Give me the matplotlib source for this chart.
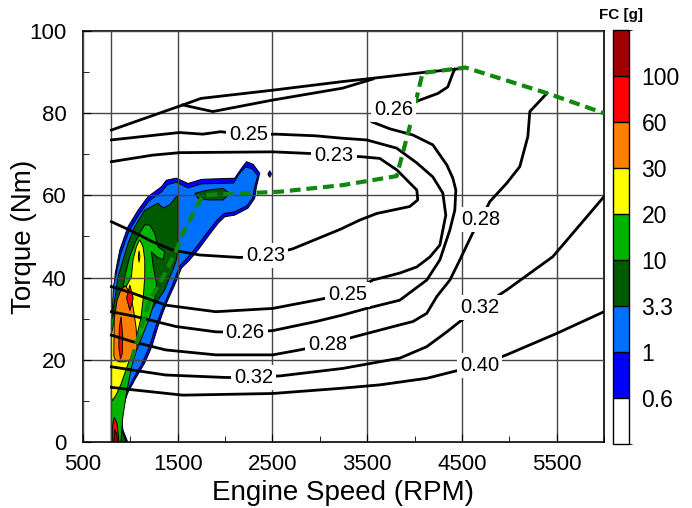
import matplotlib.pyplot as plt
from matplotlib.colors import ListedColormap, BoundaryNorm
from matplotlib.colorbar import ColorbarBase

plt.rcParams['font.family'] = ['Liberation Sans', 'DejaVu Sans']

# BSFC iso-lines (rpm, Nm), label point included in each line
bsfc_023 = [(800, 68.2), (1236, 69.8), (1521, 70.4), (2503, 70.6), (2894, 70.2), (3150, 69.8),
            (3443, 69.4), (3633, 69.0), (3813, 66.2), (4024, 61.3), (4034, 58.9), (3950, 57.3),
            (3601, 55.6), (3422, 54.0), (3221, 51.8), (2894, 48.7), (2714, 47.0), (2429, 45.3),
            (2155, 44.9), (1732, 45.5), (1447, 46.7), (1236, 48.7), (1025, 51.2), (800, 53.6)]
bsfc_025 = [(800, 73.5), (1518, 75.3), (1764, 74.9), (1954, 75.5), (2245, 74.7), (2535, 74.9),
            (2957, 74.5), (3242, 73.9), (3494, 73.5), (3811, 71.5), (4024, 67.9), (4193, 64.5),
            (4298, 60.6), (4330, 55.2), (4267, 47.9), (4161, 45.0), (4024, 42.6), (3844, 41.1),
            (3559, 39.4), (3290, 36.0), (2957, 34.5), (2503, 32.5), (1901, 31.7), (1373, 33.3),
            (1025, 36.2), (800, 37.8)]
bsfc_026 = [(800, 31.7), (1060, 30.5), (1482, 28.1), (1904, 26.8), (2213, 26.7), (2503, 27.1),
            (2957, 29.3), (3242, 30.9), (3494, 32.5), (3844, 34.5), (4129, 39.4), (4267, 44.3),
            (4373, 51.6), (4425, 56.4), (4436, 61.3), (4404, 64.2), (4341, 67.4), (4193, 72.3),
            (3982, 74.7), (3739, 76.2), (3549, 77.9), (3781, 80.8), (4056, 83.2), (4246, 84.8),
            (4351, 86.4), (4404, 89.7), (4425, 90.7)]
bsfc_028 = [(800, 26.0), (1025, 24.4), (1373, 22.4), (1901, 21.2), (2503, 21.2), (2788, 22.4),
            (3084, 23.8), (3365, 25.6), (3844, 28.5), (3982, 29.3), (4129, 31.3), (4235, 35.4),
            (4373, 39.4), (4478, 44.3), (4615, 50.9), (4699, 54.1), (4795, 58.5), (4974, 63.0),
            (5111, 67.0), (5196, 74.3), (5217, 80.4), (5396, 84.8)]
bsfc_032 = [(800, 18.3), (1025, 17.5), (1373, 16.3), (2007, 15.7), (2300, 15.7), (2588, 16.1),
            (3242, 17.9), (3844, 20.4), (4129, 23.2), (4341, 26.8), (4478, 29.3), (4689, 32.7),
            (4974, 37.0), (5460, 45.1), (6000, 59.7)]
bsfc_040 = [(800, 13.3), (1025, 12.7), (1553, 11.4), (2503, 11.8), (3242, 13.1), (3633, 13.9),
            (4129, 15.5), (4404, 17.1), (4689, 18.7), (4971, 21.2), (5499, 26.4), (6000, 31.7)]
top_a = [(800, 75.9), (1553, 82.0), (1746, 83.6), (2503, 85.6), (3242, 87.7), (3559, 88.5),
         (4087, 89.9), (4425, 90.7), (4541, 91.1)]
top_b = [(1553, 82.0), (1870, 80.4), (2503, 83.2), (3242, 86.1), (3559, 88.3)]

bsfc_labels = [('0.23', 3150, 69.8), ('0.23', 2429, 45.3), ('0.25', 2245, 74.7), ('0.25', 3290, 36.0),
               ('0.26', 2213, 26.7), ('0.26', 3781, 80.8), ('0.28', 3084, 23.8), ('0.28', 4699, 54.1),
               ('0.32', 2300, 15.7), ('0.32', 4689, 32.7), ('0.40', 4689, 18.7)]

# operating line (green dashed)
op_rpm = [1011, 1117, 1204, 1342, 1486, 1556, 1680, 1750, 1785, 2577, 3242, 3811, 3948, 4085, 4539, 5394, 6000]
op_nm = [20.0, 28.0, 34.5, 39.9, 46.7, 50.8, 56.4, 59.3, 60.1, 60.9, 62.5, 64.7, 76.6, 89.8, 91.1, 84.9, 80.0]

# FC [g] regions, one outline per level (rpm, Nm)
fc_06 = [(800, 0), (800, 20), (815, 33), (840, 41), (888, 46.7), (975, 52.4), (1081, 56.4), (1186, 59.7),
         (1328, 62.1), (1381, 63.7), (1486, 64.2), (1609, 62.9), (1750, 63.9), (2102, 64.2), (2173, 66.6),
         (2226, 68.2), (2295, 67.6), (2366, 65.4), (2331, 62.1), (2313, 59.3), (2242, 56.9), (2102, 55.2),
         (1996, 54.8), (1926, 53.2), (1820, 50.0), (1714, 46.7), (1627, 44.3), (1539, 42.3), (1468, 38.2),
         (1395, 34.5), (1342, 31.4), (1290, 28.0), (1225, 23.1), (1151, 19.2), (1046, 15.1), (972, 11.9),
         (920, 8.5), (906, 6.1), (922, 2.9), (972, 0)]
fc_06_dot = [(2471, 66.0), (2490, 65.2), (2471, 64.4), (2452, 65.2)]
fc_1 = [(800, 0), (800, 28), (822, 38), (895, 45.5), (985, 51.3), (1090, 55.3), (1195, 58.6), (1335, 61.0),
        (1390, 62.6), (1486, 63.2), (1609, 61.8), (1750, 62.8), (2090, 63.0), (2150, 65.3), (2215, 66.9),
        (2285, 66.5), (2345, 64.8), (2310, 61.9), (2293, 59.5), (2230, 57.5), (2100, 56.0), (1990, 55.6),
        (1915, 54.0), (1805, 50.8), (1700, 47.5), (1610, 45.0), (1520, 42.8), (1450, 38.5), (1375, 34.5),
        (1320, 31.4), (1265, 28.0), (1200, 23.1), (1125, 19.2), (1025, 15.1), (955, 11.9), (903, 8.5),
        (890, 6.1), (905, 2.9), (950, 0)]
fc_33 = [(800, 0), (800, 30), (835, 34.5), (870, 40.2), (922, 44.3), (975, 48.3), (1046, 52.4), (1152, 56.4),
         (1292, 58.1), (1345, 56.9), (1416, 57.7), (1486, 59.7), (1503, 60.1), (1503, 47.9), (1486, 44.3),
         (1450, 41.9), (1416, 40.2), (1363, 37.0), (1290, 34.5), (1152, 29.7), (1117, 26.4), (1046, 22.4),
         (993, 20.8), (958, 15.9), (922, 11.0), (888, 6.2), (906, 2.9), (958, 0)]
fc_33_island = [(1680, 60.5), (1820, 61.3), (1978, 61.7), (2049, 60.5), (1978, 58.9), (1820, 58.9), (1714, 59.3)]
fc_10 = [(800, 0), (800, 29.7), (845, 32.1), (906, 34.5), (940, 40.2), (993, 45.1), (1046, 48.3), (1117, 51.6),
         (1152, 52.8), (1204, 52.8), (1257, 50.8), (1292, 47.5), (1363, 46.3), (1345, 44.3), (1275, 45.1),
         (1222, 46.3), (1239, 43.1), (1275, 38.6), (1257, 34.5), (1200, 30), (1130, 26), (1060, 22),
         (1010, 18), (960, 12), (920, 6), (900, 0)]
fc_20 = [(800, 11), (800, 26), (830, 30), (900, 34), (960, 38), (1011, 40.2), (1028, 44.3), (1063, 47.5),
         (1099, 49.2), (1134, 47.5), (1152, 44.3), (1152, 40.2), (1134, 34.5), (1110, 30), (1070, 26),
         (1020, 22), (960, 18), (900, 14), (850, 11.5), (810, 10)]
fc_20_dot = [(1092, 46.5), (1100, 45.1), (1092, 43.7), (1084, 45.1)]
fc_30 = [(825, 21), (830, 30), (860, 34.5), (900, 37), (945, 38), (995, 36.5), (1035, 32), (1062, 27.5),
         (1070, 23), (1045, 21), (1000, 20), (940, 19.5), (880, 19.5), (840, 20)]
fc_60_a = [(995, 38.2), (1030, 35.0), (995, 32.0), (960, 35.0)]
fc_60_b = [(902, 30.5), (918, 26), (914, 21.5), (895, 20.2), (878, 23), (884, 28)]
fc_60_c = [(810, 0), (812, 4), (830, 6), (860, 4.5), (880, 0)]
fc_100 = [(825, 0), (835, 3), (855, 2), (865, 0)]

cb_bounds = [0, 0.6, 1, 3.3, 10, 20, 30, 60, 100, 200]
cb_labels = ['0.6', '1', '3.3', '10', '20', '30', '60', '100']
cb_colors = ['#FFFFFF', '#0000FF', '#0070FF', '#005A00', '#00B400', '#FFFF00', '#FF8000', '#FF0000', '#A00000']

fig = plt.figure(figsize=(6.92, 5.08), dpi=100)
ax = fig.add_axes([83 / 692, 66 / 508, 521 / 692, 411 / 508])
cax = fig.add_axes([613 / 692, 64 / 508, 16 / 692, 414 / 508])

fills = [(fc_06, 1), (fc_06_dot, 1), (fc_1, 2), (fc_33, 3), (fc_33_island, 3), (fc_10, 4),
         (fc_20, 5), (fc_20_dot, 6), (fc_30, 6), (fc_60_a, 7), (fc_60_b, 7), (fc_60_c, 7), (fc_100, 8)]
for poly, lev in fills:
    xs = [p[0] for p in poly]
    ys = [p[1] for p in poly]
    ax.fill(xs, ys, facecolor=cb_colors[lev], edgecolor='black', lw=0.7, zorder=1 + lev * 0.01)

for line in [bsfc_023, bsfc_025, bsfc_026, bsfc_028, bsfc_032, bsfc_040, top_a, top_b]:
    ax.plot([p[0] for p in line], [p[1] for p in line], color='black', lw=2, zorder=3,
            solid_joinstyle='round')

ax.plot(op_rpm, op_nm, color='#108810', lw=3, ls=(0, (2.6, 1.4)), zorder=4)

for txt, x, y in bsfc_labels:
    ax.text(x, y, txt, fontsize=14.5, ha='center', va='center', zorder=5,
            bbox=dict(boxstyle='square,pad=0.15', fc='white', ec='none'))

ax.set_xlim(500, 6000)
ax.set_ylim(0, 100)
ax.set_xticks([500, 1500, 2500, 3500, 4500, 5500])
ax.set_xticks([1000, 2000, 3000, 4000, 5000, 6000], minor=True)
ax.set_yticks([0, 20, 40, 60, 80, 100])
ax.set_yticks([10, 30, 50, 70, 90], minor=True)
ax.grid(True, which='major', color='#454545', lw=1, zorder=2)
ax.set_axisbelow(False)
ax.axvline(800, color='#454545', lw=1, zorder=2)
ax.tick_params(which='both', direction='in', labelsize=16, top=False, right=False)
ax.tick_params(which='major', length=6)
ax.tick_params(axis='x', which='major', pad=9)
ax.tick_params(axis='y', which='major', pad=12)
ax.tick_params(which='minor', length=4)
ax.set_xlabel('Engine Speed (RPM)', fontsize=20, labelpad=3)
ax.set_ylabel('Torque (Nm)', fontsize=20)
ax.yaxis.set_label_coords(-0.088, 0.5)
for s in ax.spines.values():
    s.set_linewidth(1.2)

cmap = ListedColormap(cb_colors)
norm = BoundaryNorm(cb_bounds, cmap.N)
cb = ColorbarBase(cax, cmap=cmap, norm=norm, boundaries=cb_bounds, spacing='uniform',
                  ticks=cb_bounds[1:-1], drawedges=True)
cb.ax.set_yticklabels(cb_labels)
cb.ax.tick_params(length=0, labelsize=16.5, pad=9)
cb.outline.set_linewidth(1)
cb.dividers.set_linewidth(1)
cax.set_title('FC [g]', fontsize=11, fontweight='bold', pad=8)

fig.savefig('out.png', dpi=100)
